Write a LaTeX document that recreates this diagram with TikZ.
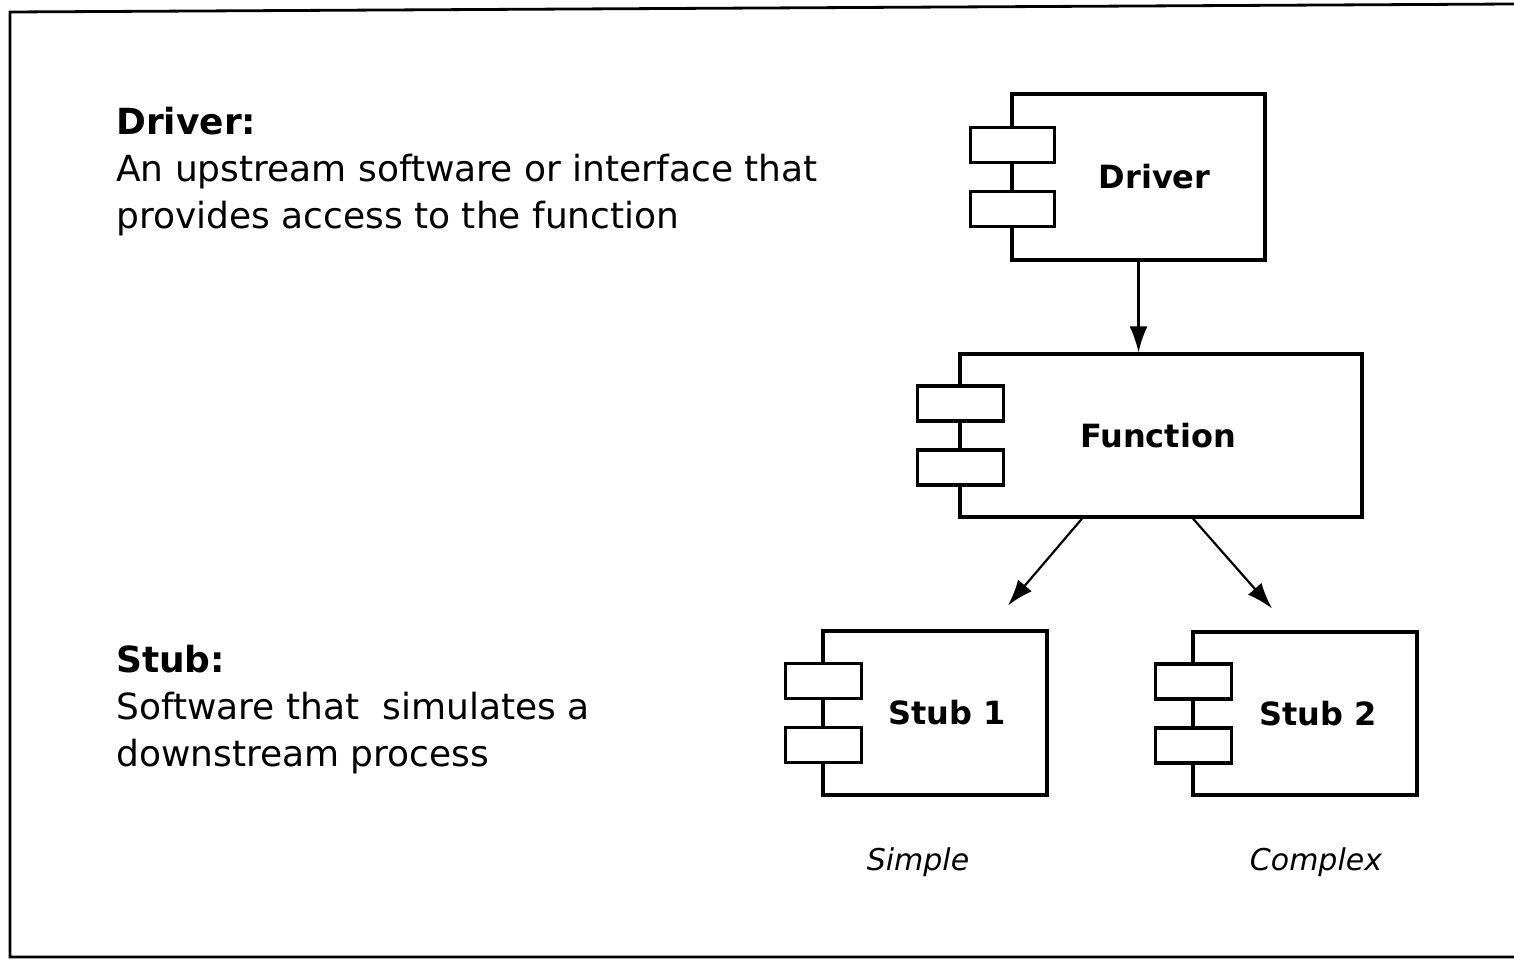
\documentclass[tikz,border=0pt]{standalone}
\usepackage{fontspec}
\setmainfont{DejaVu Sans}
\usetikzlibrary{arrows.meta,positioning,calc}

\begin{document}
\begin{tikzpicture}[
  x=1pt, y=-1pt,
  >=Latex,
  every node/.style={font=\fontsize{36}{47}\selectfont},
  comp/.style={draw, line width=3.2pt, fill=white, inner sep=0pt},
  complbl/.style={font=\fontsize{32}{36}\selectfont\bfseries},
  tab/.style={draw, line width=3.2pt, fill=white, minimum height=35pt, inner sep=0pt},
  flow/.style={-{Latex[length=26pt,width=18pt]}, line width=2.2pt},
  blurb/.style={align=left, anchor=north west, inner sep=0pt},
  caption/.style={font=\fontsize{30}{36}\selectfont\itshape},
]
\useasboundingbox (0,0) rectangle (1514,960);

% --- Frame -----------------------------------------------------
\draw[line width=2.8pt] (1514,4) -- (10,12) -- (10,957) -- (1514,957);

% --- Explanations (left) ---------------------------------------
\node[blurb] (drvtxt) at (116,107) {\textbf{Driver:}\\An upstream software or interface that\\provides access to the function};
\node[blurb] (stubtxt) at (116,645) {\textbf{Stub:}\\Software that\ \ simulates a\\downstream process};

% --- Components ------------------------------------------------
\node[comp, minimum width=253pt, minimum height=166pt, label={[complbl, xshift=16pt]center:Driver}] (drv) at (1138.5,177) {};
\node[comp, minimum width=402pt, minimum height=163pt, label={[complbl, xshift=-3pt]center:Function}] (fun) at (1161,435.5) {};
\node[comp, minimum width=224pt, minimum height=164pt, label={[complbl, xshift=12pt]center:Stub 1}] (stub1) at (935,713) {};
\node[comp, minimum width=224pt, minimum height=163pt, label={[complbl, xshift=13pt]center:Stub 2}] (stub2) at (1305,713.5) {};

% interface tabs
\foreach \b/\w in {drv/84,fun/86,stub1/76,stub2/76} {
  \node[tab, minimum width=\w pt] at ([xshift=2pt, yshift=32pt]\b.west) {};
  \node[tab, minimum width=\w pt] at ([xshift=2pt, yshift=-32pt]\b.west) {};
}

% --- Captions --------------------------------------------------
\node[caption] (simple) at (918,862) {Simple};
\node[caption] (complex) at (1316,862) {Complex};

% --- Calls -----------------------------------------------------
\coordinate (s1in) at ([xshift=73pt, yshift=24pt]stub1.north);
\coordinate (s2in) at ([xshift=-33pt, yshift=22pt]stub2.north);
\draw[flow] (drv.south) -- (drv.south |- fun.north);
\draw[flow] ([xshift=-79pt]fun.south) -- (s1in);
\draw[flow] ([xshift=32pt]fun.south) -- (s2in);

\end{tikzpicture}
\end{document}
